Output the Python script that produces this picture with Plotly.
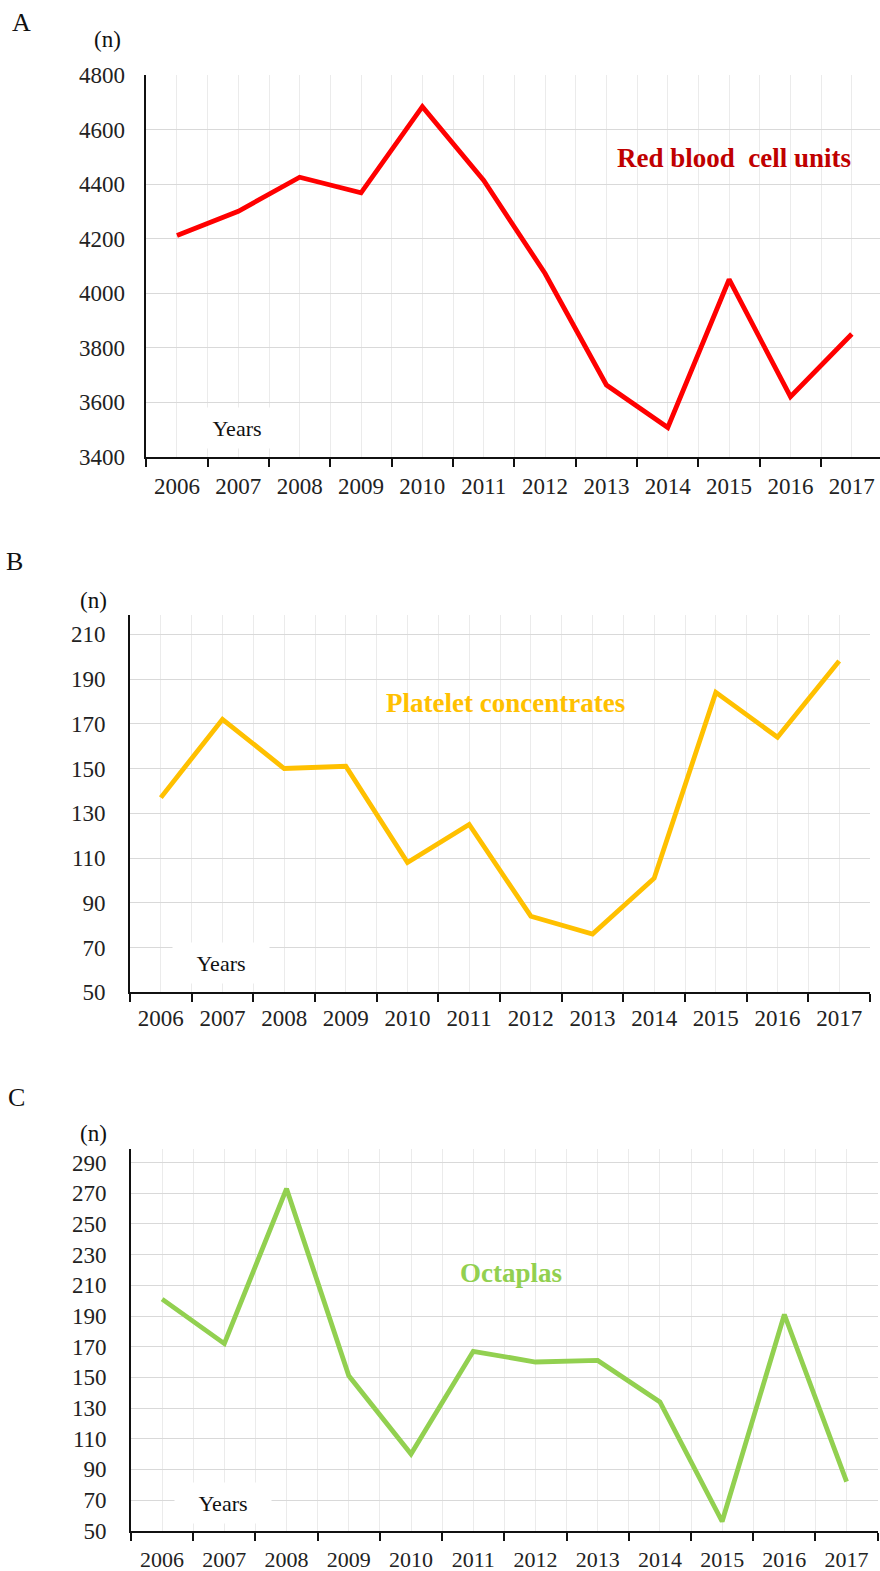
import plotly.graph_objects as go

years = [2006, 2007, 2008, 2009, 2010, 2011, 2012, 2013, 2014, 2015, 2016, 2017]
year_labels = [str(y) for y in years]

red_cells = [4211, 4300, 4425, 4368, 4684, 4413, 4072, 3663, 3507, 4050, 3620, 3850]
platelets = [137, 172, 150, 151, 108, 125, 84, 76, 101, 184, 164, 198]
octaplas = [201, 172, 273, 151, 100, 167, 160, 161, 134, 56, 191, 82]

W, H = 880, 1571
SERIF = "Liberation Serif, Times New Roman, serif"

fig = go.Figure()

panels = [
    dict(vals=red_cells, color="#ff0000", label="Red blood  cell units", lcolor="#c00000",
         xpx=(146.3, 880), ypx=(75, 456.7), yr=(3400, 4800), dt=200,
         xr=(2005.5, 2005.5 + (880 - 146.3) / 61.35), lab=(734, 158),
         years=(237, 428), n=(107, 40), letter=("A", 21, 23), ystand=15, xstand=8, fs=23),
    dict(vals=platelets, color="#ffc000", label="Platelet concentrates", lcolor="#ffc000",
         xpx=(130, 870), ypx=(615, 992.3), yr=(50, 218.6), dt=20,
         xr=(2005.5, 2017.5), lab=(506, 703),
         years=(221, 963), n=(93, 600), letter=("B", 15, 562), ystand=18, xstand=4, fs=23),
    dict(vals=octaplas, color="#92d050", label="Octaplas", lcolor="#92d050",
         xpx=(131, 877.7), ypx=(1149.3, 1530.7), yr=(50, 298.7), dt=20,
         xr=(2005.5, 2017.5), lab=(511, 1273),
         years=(223, 1503), n=(93, 1133), letter=("C", 16, 1097), ystand=18, xstand=8, fs=22),
]

annotations = []
for i, p in enumerate(panels):
    k = i + 1
    xa = "x" if k == 1 else f"x{k}"
    ya = "y" if k == 1 else f"y{k}"
    xdom = [p["xpx"][0] / W, min(p["xpx"][1] / W, 1.0)]
    ydom = [1 - p["ypx"][1] / H, 1 - p["ypx"][0] / H]
    fig.add_trace(go.Scatter(x=years, y=p["vals"], mode="lines",
                             line=dict(color=p["color"], width=4.8),
                             xaxis=xa, yaxis=ya, showlegend=False, hoverinfo="skip"))
    tickvals = list(range(int(p["yr"][0]), int(p["yr"][1]) + 1, p["dt"]))
    fig.layout[f"xaxis{'' if k == 1 else k}"] = dict(
        domain=xdom, anchor=ya, range=list(p["xr"]), automargin=False,
        tickmode="array", tickvals=years, ticktext=year_labels, ticks="",
        showgrid=True, gridcolor="#ebebeb", gridwidth=1.2,
        showline=True, linecolor="#111", linewidth=1.6,
        tickfont=dict(family=SERIF, size=p["fs"], color="#222"),
        ticklabelstandoff=p["xstand"], zeroline=False,
        minor=dict(tickmode="linear", tick0=2005.5, dtick=1, ticks="outside",
                   ticklen=8, tickwidth=1.6, tickcolor="#111",
                   showgrid=True, gridcolor="#ebebeb", gridwidth=1.2),
    )
    fig.layout[f"yaxis{'' if k == 1 else k}"] = dict(
        domain=ydom, anchor=xa, range=list(p["yr"]), automargin=False,
        tickmode="array", tickvals=tickvals, ticks="",
        showgrid=True, gridcolor="#d9d9d9", gridwidth=1.4,
        showline=True, linecolor="#111", linewidth=1.6,
        tickfont=dict(family=SERIF, size=23, color="#222"),
        ticklabelstandoff=p["ystand"], zeroline=False,
    )
    ox = 3 + k
    fig.layout[f"xaxis{ox}"] = dict(
        domain=xdom, anchor=ya, overlaying=xa, range=list(p["xr"]), automargin=False,
        showgrid=False, showline=False, showticklabels=False, ticks="",
        zeroline=False,
        minor=dict(tickmode="linear", tick0=2005.5, dtick=1, ticks="inside",
                   ticklen=8, tickwidth=1.6, tickcolor="#111", showgrid=False),
    )
    annotations.append(dict(text=f"<b>{p['label']}</b>", x=p["lab"][0] / W, y=1 - p["lab"][1] / H,
                            xref="paper", yref="paper", showarrow=False,
                            font=dict(family=SERIF, size=27, color=p["lcolor"]),
                            xanchor="center", yanchor="middle"))
    annotations.append(dict(text="Years", x=p["years"][0] / W, y=1 - p["years"][1] / H,
                            xref="paper", yref="paper", showarrow=False,
                            font=dict(family=SERIF, size=22, color="#111"),
                            bgcolor="white", width=94, height=38,
                            xanchor="center", yanchor="middle"))
    annotations.append(dict(text="(n)", x=p["n"][0] / W, y=1 - p["n"][1] / H,
                            xref="paper", yref="paper", showarrow=False,
                            font=dict(family=SERIF, size=23, color="#111"),
                            xanchor="center", yanchor="middle"))
    annotations.append(dict(text=p["letter"][0], x=p["letter"][1] / W, y=1 - p["letter"][2] / H,
                            xref="paper", yref="paper", showarrow=False,
                            font=dict(family=SERIF, size=26, color="#111"),
                            xanchor="center", yanchor="middle"))

fig.update_layout(width=W, height=H, margin=dict(l=0, r=0, t=0, b=0, autoexpand=False),
                  paper_bgcolor="white", plot_bgcolor="white",
                  annotations=annotations)

fig.write_html("out.html", config={"displayModeBar": False},
               post_script="document.body.style.margin='0';document.body.style.overflow='hidden';")
